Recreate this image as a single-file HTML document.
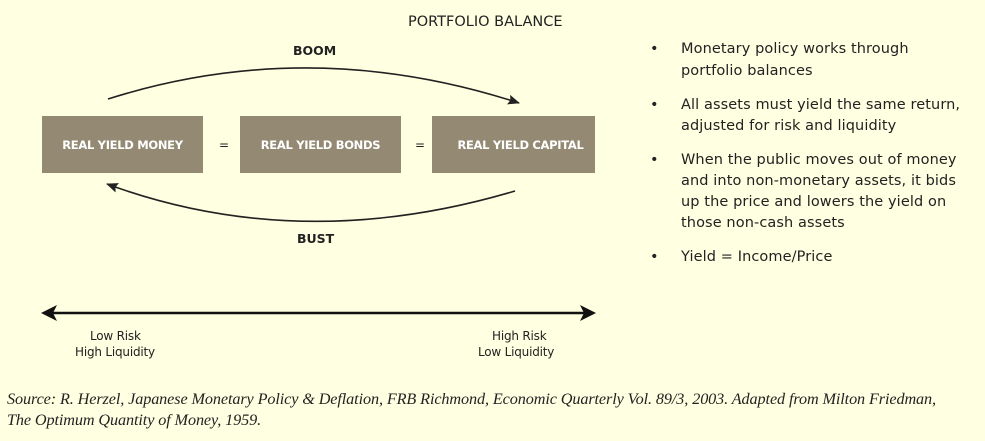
<!DOCTYPE html>
<html><head><meta charset="utf-8"><style>
html,body{margin:0;padding:0}
body{width:985px;height:441px;background:#FFFFE1;position:relative;overflow:hidden;font-family:"DejaVu Sans","Liberation Sans",sans-serif;color:#222}
.t{position:absolute;white-space:nowrap;line-height:1}
.b{position:absolute;background:#948A74;color:#fff;font-size:11.5px;font-weight:bold;letter-spacing:-0.3px;display:flex;align-items:center;justify-content:center;height:57px;top:116px}
.r{font-size:14.5px;letter-spacing:0.1px}
.s{font-family:"Liberation Serif",serif;font-style:italic;font-size:16.2px;color:#222;letter-spacing:-0.1px}
.l{font-size:12px;letter-spacing:-0.2px}
</style></head><body>
<div class="t" style="left:408px;top:15px;font-size:14.5px">PORTFOLIO BALANCE</div>
<div class="t" style="left:293px;top:45px;font-size:12.5px;font-weight:bold">BOOM</div>
<div class="t" style="left:297px;top:233px;font-size:12.5px;font-weight:bold">BUST</div>
<div class="b" style="left:42px;width:161px">REAL YIELD MONEY</div>
<div class="b" style="left:240px;width:161px">REAL YIELD BONDS</div>
<div class="b" style="left:432px;width:163px;padding-left:14px;box-sizing:border-box">REAL YIELD CAPITAL</div>
<div class="t" style="left:219px;top:139px;font-size:12px">=</div>
<div class="t" style="left:415px;top:139px;font-size:12px">=</div>
<svg width="985" height="441" style="position:absolute;left:0;top:0">
<defs><marker id="a" markerWidth="12" markerHeight="10" refX="11" refY="5" orient="auto" markerUnits="userSpaceOnUse"><path d="M0,0 L12,5 L0,10 L2,5z" fill="#222"/></marker></defs>
<path d="M108,99 Q310,35 519,103" fill="none" stroke="#222" stroke-width="1.6" marker-end="url(#a)"/>
<path d="M515,191 Q300,255 107,184" fill="none" stroke="#222" stroke-width="1.6" marker-end="url(#a)"/>
<line x1="50" y1="313" x2="588" y2="313" stroke="#111" stroke-width="2.5"/>
<path d="M41,313 L57,305 L53,313 L57,321z" fill="#111"/>
<path d="M596,313 L580,305 L584,313 L580,321z" fill="#111"/>
</svg>
<div class="t l" style="left:90px;top:330px">Low Risk</div>
<div class="t l" style="left:75px;top:346px">High Liquidity</div>
<div class="t l" style="left:492px;top:330px">High Risk</div>
<div class="t l" style="left:478px;top:346px">Low Liquidity</div>
<div class="t r" style="left:650px;top:42px">•</div>
<div class="t r" style="left:681px;top:42px">Monetary policy works through</div>
<div class="t r" style="left:681px;top:64px">portfolio balances</div>
<div class="t r" style="left:650px;top:98px">•</div>
<div class="t r" style="left:681px;top:98px">All assets must yield the same return,</div>
<div class="t r" style="left:681px;top:119px">adjusted for risk and liquidity</div>
<div class="t r" style="left:650px;top:153px">•</div>
<div class="t r" style="left:681px;top:153px">When the public moves out of money</div>
<div class="t r" style="left:681px;top:174px">and into non-monetary assets, it bids</div>
<div class="t r" style="left:681px;top:195px">up the price and lowers the yield on</div>
<div class="t r" style="left:681px;top:216px">those non-cash assets</div>
<div class="t r" style="left:650px;top:250px">•</div>
<div class="t r" style="left:681px;top:250px">Yield = Income/Price</div>
<div class="t s" style="left:7px;top:391px">Source: R. Herzel, Japanese Monetary Policy &amp; Deflation, FRB Richmond, Economic Quarterly Vol. 89/3, 2003. Adapted from Milton Friedman,</div>
<div class="t s" style="left:7px;top:412px">The Optimum Quantity of Money, 1959.</div>
</body></html>
